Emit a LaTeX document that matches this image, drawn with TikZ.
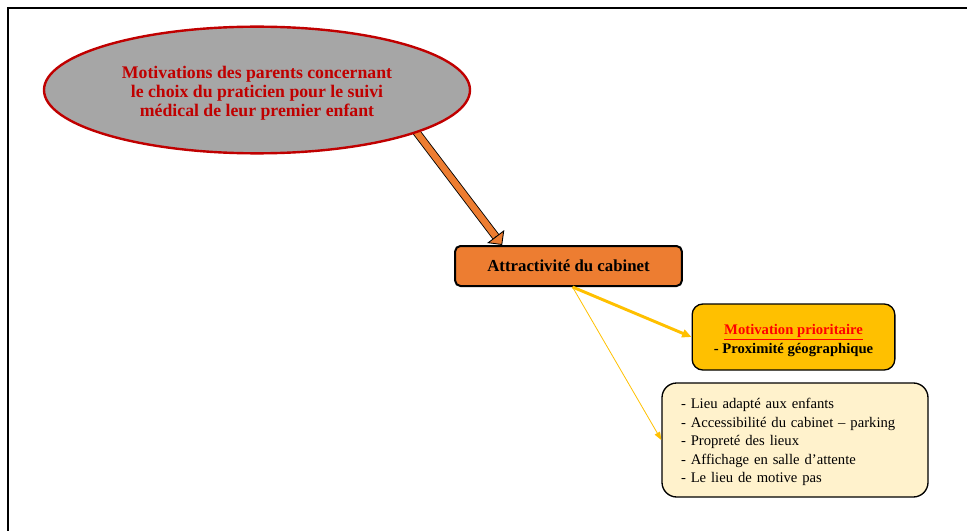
\documentclass[tikz,border=0pt]{standalone}
\usepackage{fontspec}
\setmainfont{Liberation Serif}
\usetikzlibrary{shapes.geometric,arrows.meta,calc,backgrounds}
\definecolor{ovalGray}{HTML}{A6A6A6}
\definecolor{darkRed}{HTML}{C00000}
\definecolor{boxOrange}{HTML}{ED7D31}
\definecolor{gold}{HTML}{FFC000}
\definecolor{cream}{HTML}{FFF2CC}
\tikzstyle{ovalNode}=[shape = ellipse, draw = darkRed, line width = 1.8pt, fill = ovalGray, minimum width = 319.5pt, minimum height = 95pt, inner sep = 0pt, align = center, text = darkRed, font = \fontsize{13.3}{14.4}\selectfont\bfseries]
\tikzstyle{orangeBox}=[shape = rectangle, rounded corners = 4pt, draw, line width = 1.5pt, fill = boxOrange, minimum width = 170pt, minimum height = 30pt, font = \fontsize{12.6}{14}\selectfont\bfseries]

\begin{document}
\begin{tikzpicture}[x = 0.75pt, y = -0.75pt]
\tikzstyle{goldBox}=[shape = rectangle, rounded corners = 8pt, draw, line width = 1pt, fill = gold, minimum width = 152pt, minimum height = 49.5pt, align = center, font = \fontsize{11}{14.6}\selectfont\bfseries]
\tikzstyle{creamBox}=[shape = rectangle, rounded corners = 11pt, draw, line width = 1pt, fill = cream, text width = 171pt, inner xsep = 14.25pt, minimum height = 85.5pt, align = left, font = \fontsize{11}{13.9}\selectfont]
\tikzstyle{blockShaft}=[double = boxOrange, double distance = 4.8pt, line width = 0.65pt]
\tikzstyle{blockHead}=[line width = 0.65pt, line join = miter, -{Triangle[length = 8pt, width = 16pt, fill = boxOrange]}]
\tikzstyle{thickGold}=[draw = gold, line width = 2.2pt, -{Triangle[length = 7pt, width = 6pt]}]
\tikzstyle{thinGold}=[draw = gold, line width = 0.6pt, -{Triangle[length = 6pt, width = 4.5pt]}]
\useasboundingbox (0,0) rectangle (967,531);
\draw[line width = 1.5pt] (8,531) -- (8,8) -- (967,8);
\node[ovalNode] (motiv) at (257,90) {\rule{0pt}{14pt}Motivations des parents concernant\\le choix du praticien pour le suivi\\médical de leur premier enfant};
\node[orangeBox] (attract) at (568.5,266) {Attractivité du cabinet};
\node[goldBox] (prio) at (793.5,337) {\rule{0pt}{13pt}\textcolor{red}{\underline{Motivation prioritaire}}\\- Proximité géographique};
\node[creamBox] (lieu) at (795,440) {\rule{0pt}{11pt}- Lieu adapté aux enfants\\- Accessibilité du cabinet – parking\\- Propreté des lieux\\- Affichage en salle d’attente\\- Le lieu de motive pas};
\coordinate (tipA) at ([xshift = 36pt]attract.north west);
\begin{pgfonlayer}{background}
\draw[blockShaft, shorten < = -6pt, shorten > = 7.5pt] (motiv.-15) -- (tipA);
\end{pgfonlayer}
\draw[blockHead] ($(tipA)!8pt!(motiv.-15)$) -- (tipA);
\coordinate (fork) at ([xshift = 3pt]attract.south);
\draw[thickGold] (fork) -- (prio.west);
\draw[thinGold] (fork) -- (lieu.west);
\end{tikzpicture}
\end{document}
